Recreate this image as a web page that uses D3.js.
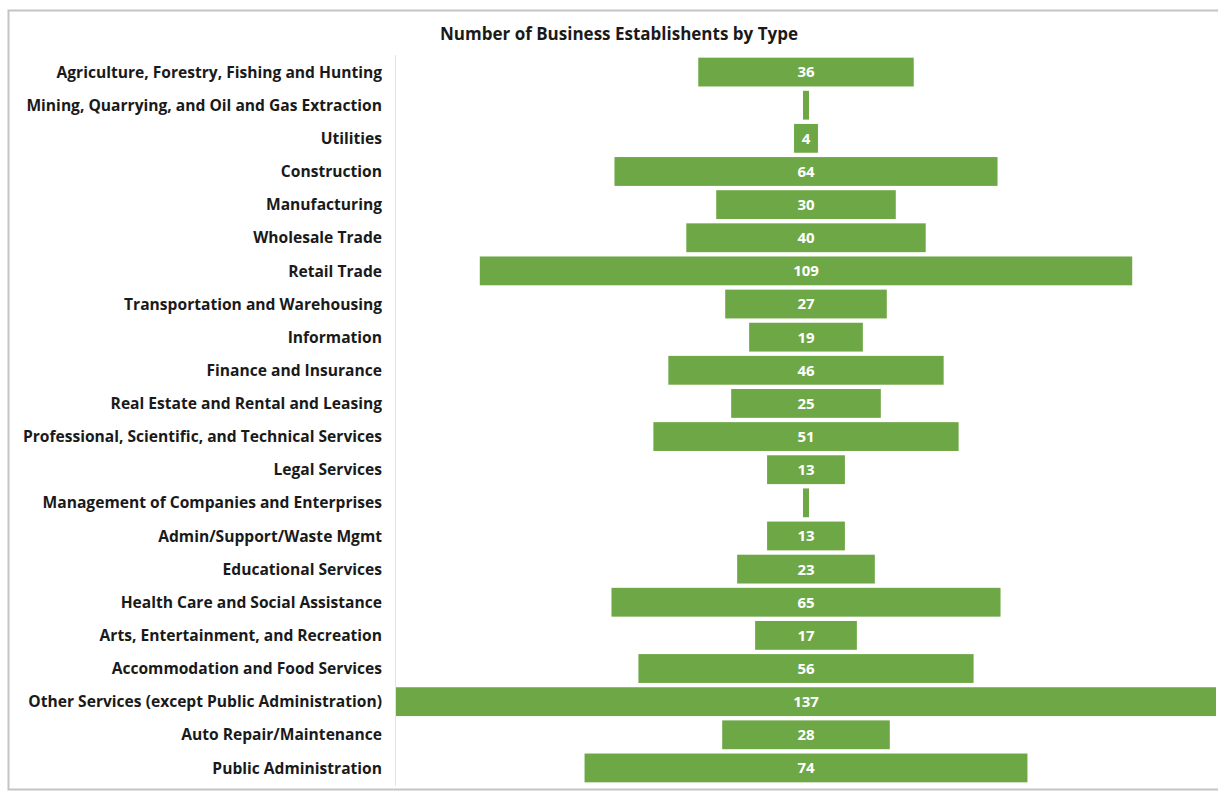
<!DOCTYPE html>
<html>
<head>
<meta charset="utf-8">
<script src="https://cdn.jsdelivr.net/npm/d3@7"></script>
<style>
  html, body { margin: 0; padding: 0; background: #fff; }
  svg { display: block; }
  text { font-family: "Open Sans", Lato, sans-serif; }
</style>
</head>
<body>
<svg id="chart" width="1218" height="792"></svg>
<script>
// Business establishment counts by industry type
const categories = [
  "Agriculture, Forestry, Fishing and Hunting",
  "Mining, Quarrying, and Oil and Gas Extraction",
  "Utilities",
  "Construction",
  "Manufacturing",
  "Wholesale Trade",
  "Retail Trade",
  "Transportation and Warehousing",
  "Information",
  "Finance and Insurance",
  "Real Estate and Rental and Leasing",
  "Professional, Scientific, and Technical Services",
  "Legal Services",
  "Management of Companies and Enterprises",
  "Admin/Support/Waste Mgmt",
  "Educational Services",
  "Health Care and Social Assistance",
  "Arts, Entertainment, and Recreation",
  "Accommodation and Food Services",
  "Other Services (except Public Administration)",
  "Auto Repair/Maintenance",
  "Public Administration"
];
const counts = [36, 1, 4, 64, 30, 40, 109, 27, 19, 46, 25, 51, 13, 1, 13, 23, 65, 17, 56, 137, 28, 74];
const chartTitle = "Number of Business Establishents by Type";

const svg = d3.select("#chart");
const barColor = "#6ea846";

// Chart frame
svg.append("rect")
  .attr("x", 8.5).attr("y", 10.5)
  .attr("width", 1230).attr("height", 779)
  .attr("fill", "#fff")
  .attr("stroke", "#c4c4c4").attr("stroke-width", 2);

svg.append("text")
  .attr("x", 619).attr("y", 40)
  .attr("text-anchor", "middle")
  .attr("font-size", 17).attr("font-weight", "bold")
  .attr("fill", "#1a1a1a")
  .text(chartTitle);

const centerX = 806;
const width = d3.scaleLinear().domain([0, 137]).range([0, 820]);
const y = d3.scaleBand()
  .domain(categories)
  .range([55.5, 784.5])
  .paddingInner(0.13)
  .paddingOuter(0.065);

// Category axis line
svg.append("line")
  .attr("x1", 395.5).attr("x2", 395.5)
  .attr("y1", 55).attr("y2", 786)
  .attr("stroke", "#e3e3e3").attr("stroke-width", 1);

const rows = categories.map((c, i) => ({ cat: c, value: counts[i] }));

svg.append("g").selectAll("rect")
  .data(rows)
  .join("rect")
  .attr("x", d => centerX - width(d.value) / 2)
  .attr("y", d => y(d.cat))
  .attr("width", d => width(d.value))
  .attr("height", y.bandwidth())
  .attr("fill", barColor);

// Values inside bars (too-thin bars carry no label)
svg.append("g").selectAll("text")
  .data(rows.filter(d => d.value > 1))
  .join("text")
  .attr("x", centerX)
  .attr("y", d => y(d.cat) + y.bandwidth() / 2)
  .attr("dy", "0.36em")
  .attr("text-anchor", "middle")
  .attr("font-size", 15).attr("font-weight", "bold")
  .attr("fill", "#ffffff")
  .text(d => d.value);

// Category labels
svg.append("g").selectAll("text")
  .data(categories)
  .join("text")
  .attr("x", 382)
  .attr("y", d => y(d) + y.bandwidth() / 2)
  .attr("dy", "0.36em")
  .attr("text-anchor", "end")
  .attr("font-size", 15.6).attr("font-weight", "bold")
  .attr("fill", "#1a1a1a")
  .text(d => d);
</script>
</body>
</html>
